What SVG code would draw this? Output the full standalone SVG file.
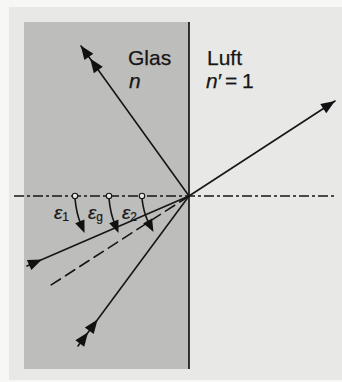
<svg xmlns="http://www.w3.org/2000/svg" xmlns:xlink="http://www.w3.org/1999/xlink" width="342" height="382" viewBox="0 0 342 382">
<style>
.ray{stroke:#161616;stroke-width:1.6;fill:none;stroke-linecap:round}
.ah{fill:#111}
.lbl{font-family:"Liberation Sans",Arial,sans-serif;font-size:21px;fill:#161616;stroke:#161616;stroke-width:0.25}
.eps{font-family:"Liberation Sans",Arial,sans-serif;font-size:19px;font-style:italic;fill:#161616;stroke:#161616;stroke-width:0.2}
.sub{font-size:12px;font-style:normal}
</style>
<defs>
<path id="ah" class="ah" d="M0,0 L-14,-5.5 L-14,5.5 Z"/>
<path id="ahs" class="ah" d="M0,0 L-12.5,-5 L-12.5,5 Z"/>
</defs>
<rect x="0" y="0" width="342" height="382" fill="#f7f7f6"/>
<rect x="9" y="7" width="333" height="373" fill="#e8e8e6"/>
<g id="glass">
<rect x="24" y="22" width="165" height="347" fill="#bdbdbb"/>
</g>
<g id="interface">
<line x1="189" y1="22" x2="189" y2="369" stroke="#161616" stroke-width="1.7"/>
</g>
<g id="labels">
<text class="lbl" x="128" y="65">Glas</text>
<text class="lbl" x="129" y="88" font-style="italic">n</text>
<text class="lbl" x="207" y="65">Luft</text>
<text class="lbl" y="88"><tspan x="206" font-style="italic">n</tspan><tspan x="218">′</tspan><tspan x="225">=</tspan><tspan x="242">1</tspan></text>
</g>
<g id="connectors">
<line x1="14" y1="196" x2="337" y2="196" stroke="#161616" stroke-width="1.4" stroke-dasharray="10,3,3,3"/>
<line class="ray" x1="189" y1="196" x2="48" y2="287" stroke-dasharray="11,6"/>
<line class="ray" x1="27" y1="266" x2="189" y2="196"/>
<use href="#ah" transform="translate(42,259.5) rotate(-23.4)"/>
<line class="ray" x1="189" y1="196" x2="335" y2="101"/>
<use href="#ah" transform="translate(335,101) rotate(-33)"/>
<line class="ray" x1="78" y1="346" x2="189" y2="196"/>
<use href="#ah" transform="translate(97.6,319.5) rotate(-53.5)"/>
<use href="#ah" transform="translate(88.1,332.3) rotate(-53.5)"/>
<line class="ray" x1="189" y1="196" x2="81" y2="46"/>
<use href="#ah" transform="translate(80.7,45.5) rotate(-125.8)"/>
<use href="#ah" transform="translate(90.1,58.6) rotate(-125.8)"/>
</g>
<g id="angles">
<circle cx="75" cy="196" r="2.7" fill="#e8e8e6" stroke="#161616" stroke-width="1.1"/>
<circle cx="109" cy="196" r="2.7" fill="#e8e8e6" stroke="#161616" stroke-width="1.1"/>
<circle cx="142" cy="196" r="2.7" fill="#e8e8e6" stroke="#161616" stroke-width="1.1"/>
<path class="ray" d="M75,198.7 Q76.5,214 80.5,223"/>
<use href="#ahs" transform="translate(84.5,233) rotate(68)"/>
<path class="ray" d="M109,198.7 Q110.5,214 114.5,223"/>
<use href="#ahs" transform="translate(118.5,233) rotate(68)"/>
<path class="ray" d="M142,198.7 Q143.5,212 148,221.5"/>
<use href="#ahs" transform="translate(153.5,232) rotate(62)"/>
<text class="eps" x="54" y="219">ε<tspan class="sub" dy="2">1</tspan></text>
<text class="eps" x="88" y="219">ε<tspan class="sub" dy="2">g</tspan></text>
<text class="eps" x="122" y="219">ε<tspan class="sub" dy="2">2</tspan></text>
</g>
</svg>
